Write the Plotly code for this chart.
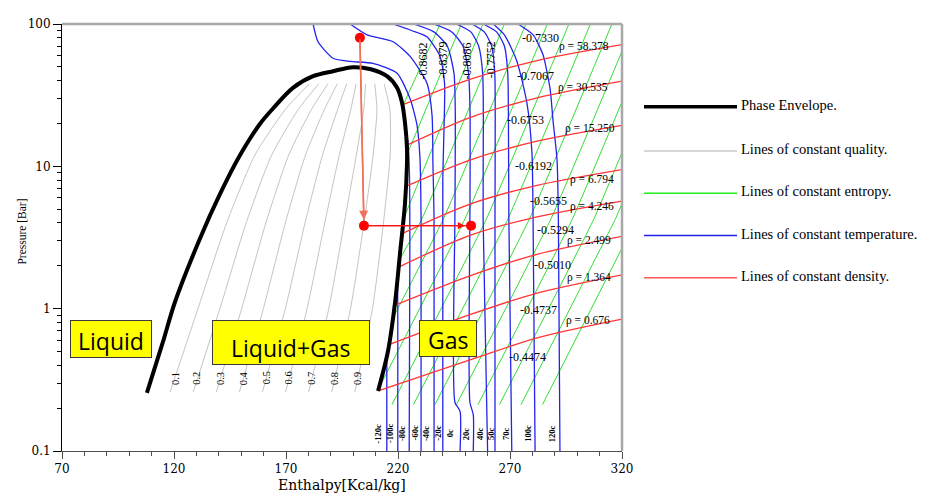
import math
import plotly.graph_objects as go

# ---------------- phase envelope (bubble + dew branches) ----------------
bubble_h = [107.9, 115.1, 120.4, 131.6, 140.5, 149.5, 158.5, 164.2, 173.1, 182.1, 191.0, 199.9]
bubble_p = [0.256, 0.586, 1.11, 3.11, 6.37, 12.0, 20.0, 25.5, 35.6, 43.0, 46.6, 49.7]
dew_h = [207.9, 215.1, 219.6, 221.8, 223.1, 224.0, 224.0, 223.1, 220.9, 218.7, 215.5, 211.1]
dew_p = [48.1, 43.0, 35.6, 28.0, 20.4, 13.5, 10.3, 5.43, 2.45, 1.11, 0.50, 0.264]

# ---------------- lines of constant quality ----------------
quality_labels = ["0.1", "0.2", "0.3", "0.4", "0.5", "0.6", "0.7", "0.8", "0.9"]
quality_p = [0.26, 1.0, 4.0, 12.0, 25.0, 38.0]
quality_h = [
    [118.3, 130.7, 143.5, 156.1, 169.6, 180.4],
    [128.6, 140.5, 152.2, 163.6, 175.4, 184.6],
    [138.9, 150.2, 161.0, 171.2, 181.3, 188.7],
    [149.2, 159.9, 169.7, 178.7, 187.1, 192.9],
    [159.5, 169.7, 178.5, 186.3, 193.0, 197.1],
    [169.8, 179.4, 187.3, 193.8, 198.9, 201.3],
    [180.1, 189.1, 196.0, 201.4, 204.7, 205.5],
    [190.4, 198.8, 204.8, 208.9, 210.6, 209.6],
    [200.7, 208.6, 213.5, 216.5, 216.4, 213.8],
]
quality_label_h = [120.4, 130.1, 140.5, 150.9, 161.1, 171.0, 181.0, 191.4, 201.6]
quality_label_p = 0.325

# ---------------- lines of constant temperature ----------------
temp_labels = ["-120c", "-100c", "-80c", "-60c", "-40c", "-20c", "0c",
               "20c", "40c", "50c", "70c", "100c", "120c"]
temp_h = [
    [215.0, 215.0],
    [219.9, 219.9, 219.8],
    [225.0, 225.3, 225.1, 224.4, 223.2],
    [230.3, 230.3, 229.8, 228.5, 225.4, 219.6, 208.8, 198.6, 191.0, 184.3, 182.1],
    [236.1, 236.1, 235.6, 235.2, 232.9, 225.4, 217.8, 206.2, 198.6],
    [240.0, 240.0, 240.6, 240.8, 238.8, 232.9, 226.0, 217.8],
    [247.7, 247.7, 245.4, 245.4, 245.6, 245.0, 242.0, 236.0, 227.0],
    [253.6, 253.6, 252.1, 252.1, 252.2, 251.5, 249.0, 244.0, 236.0],
    [260.0, 258.0, 258.1, 257.8, 256.0, 252.5, 246.0],
    [263.3, 263.3, 263.4, 263.2, 261.8, 258.5, 253.0],
    [270.8, 269.5, 269.3, 269.0, 267.5, 264.0, 258.0],
    [281.2, 280.3, 279.8, 277.6, 273.1, 267.5, 262.5],
    [292.3, 291.6, 291.0, 289.2, 287.9, 284.7, 280.3, 273.6],
]
temp_p = [
    [0.1, 0.46],
    [0.1, 1.0, 1.7],
    [0.1, 3.0, 9.0, 15.0, 20.0],
    [0.1, 4.3, 11.5, 19.4, 29.8, 45.1, 52.9, 54.6, 57.5, 75.0, 100.0],
    [0.1, 4.3, 10.3, 22.8, 38.5, 59.2, 75.1, 83.9, 100.0],
    [0.1, 8.0, 20.0, 38.0, 59.2, 81.3, 90.0, 100.0],
    [0.1, 0.19, 0.22, 4.3, 22.0, 45.0, 70.0, 88.0, 100.0],
    [0.1, 0.18, 0.22, 4.3, 22.0, 45.0, 70.0, 88.0, 100.0],
    [0.1, 4.3, 22.0, 45.0, 70.0, 88.0, 100.0],
    [0.1, 4.3, 22.0, 45.0, 70.0, 88.0, 100.0],
    [0.1, 4.3, 22.0, 45.0, 70.0, 88.0, 100.0],
    [0.1, 4.28, 12.4, 27.6, 54.6, 83.9, 100.0],
    [0.1, 4.28, 11.1, 21.0, 35.0, 61.1, 83.9, 100.0],
]
temp_label_h = [211.2, 216.7, 222.1, 227.6, 232.8, 238.0, 243.2,
                250.7, 256.9, 261.8, 268.5, 278.2, 289.1]
temp_label_p = 0.133

# ---------------- lines of constant entropy ----------------
ent_h = [
    [222.2, 238.8],
    [224.0, 248.3],
    [222.5, 257.9],
    [219.6, 230.7, 267.5],
    [217.6, 240.3, 277.1],
    [211.3, 249.9, 286.7],
    [217.3, 259.5, 296.3],
    [226.9, 269.1, 305.9],
    [236.5, 278.7, 315.5],
    [246.1, 288.3, 320.0],
    [255.7, 297.9, 320.0],
    [265.3, 307.5, 320.0],
    [274.9, 317.1, 320.0],
    [284.5, 320.0],
]
ent_p = [
    [26.7, 100.0],
    [12.05, 100.0],
    [4.28, 100.0],
    [2.06, 4.28, 100.0],
    [0.849, 4.28, 100.0],
    [0.273, 4.28, 100.0],
    [0.2117, 4.28, 100.0],
    [0.2117, 4.28, 100.0],
    [0.2117, 4.28, 100.0],
    [0.2117, 4.28, 64.4],
    [0.2117, 4.28, 28.4],
    [0.2117, 4.28, 12.48],
    [0.2117, 4.28, 5.49],
    [0.2117, 2.66],
]
ent_vlabels = ["-0.8682", "-0.8379", "-0.8086", "-0.7752"]
ent_vlabel_h = [231.2, 240.1, 250.8, 261.5]
ent_vlabel_p = [54.6, 55.5, 55.5, 56.4]
ent_labels = ["-0.7330", "-0.7067", "-0.6753", "-0.6192", "-0.5655",
              "-0.5294", "-0.5010", "-0.4737", "-0.4474"]
ent_label_h = [283.4, 281.6, 276.7, 280.3, 287.0, 290.1, 288.8, 282.5, 278.0]
ent_label_p = [80.0, 43.0, 21.0, 10.1, 5.70, 3.59, 2.03, 0.975, 0.461]

# ---------------- lines of constant density ----------------
den_labels = ["ρ = 58.378", "ρ = 30.535", "ρ = 15.250", "ρ = 6.794",
              "ρ = 4.246", "ρ = 2.499", "ρ = 1.364", "ρ = 0.676"]
den_h = [
    [221.9, 252.1, 282.1, 320.0],
    [224.0, 252.1, 282.1, 320.0],
    [223.5, 252.1, 282.1, 320.0],
    [221.8, 252.1, 282.1, 320.0],
    [220.3, 252.1, 282.1, 320.0],
    [218.5, 252.1, 282.1, 320.0],
    [216.0, 252.1, 282.1, 320.0],
    [211.1, 252.1, 282.1, 320.0],
]
den_p = [
    [27.0, 40.8, 55.4, 71.6],
    [14.1, 22.0, 30.3, 39.7],
    [7.24, 11.07, 15.03, 19.4],
    [3.37, 5.43, 7.36, 9.49],
    [1.96, 3.27, 4.42, 5.70],
    [1.056, 1.70, 2.41, 3.22],
    [0.559, 0.907, 1.288, 1.73],
    [0.264, 0.436, 0.624, 0.845],
]
den_label_h = [303.0, 302.6, 305.7, 306.6, 306.6, 305.3, 305.3, 304.8]
den_label_p = [69.4, 35.6, 18.5, 8.09, 5.18, 3.02, 1.65, 0.831]

# ---------------- process path ----------------
proc_h = [203.0, 204.8, 252.6]
proc_p = [80.0, 3.83, 3.83]

# ---------------- legend ----------------
legend_names = ["Phase Envelope.", "Lines of constant quality.", "Lines of constant entropy.",
                "Lines of constant temperature.", "Lines of constant density."]
legend_colors = ["#000000", "#C8C8C8", "#22EE22", "#2222EE", "#FF5555"]
legend_widths = [3.5, 1.5, 1.5, 1.5, 1.5]

C_Q, C_S, C_T, C_D = "#C4C4C4", "#33DD33", "#2323EE", "#FF3535"

# page offset of the figure inside the browser page (default body margin)
OFF = 8
PL, PT, PW, PH = 62, 17, 560, 434   # plot area in window pixels


def pxx(px):
    return (px - PL) / float(PW)


def pxy(py):
    return (PT + PH - py) / float(PH)


fig = go.Figure()


def add_line(h, p, color, width, smooth=0.6):
    fig.add_trace(go.Scatter(x=h, y=p, mode="lines",
                             line=dict(color=color, width=width, shape="spline", smoothing=smooth),
                             hoverinfo="skip", showlegend=False))


for hq in quality_h:
    add_line(hq, quality_p, C_Q, 1.0)
for hs, ps in zip(ent_h, ent_p):
    add_line(hs, ps, C_S, 1.0, 0.3)
for ht, pt in zip(temp_h, temp_p):
    add_line(ht, pt, C_T, 1.3, 0.6)
for hd, pd in zip(den_h, den_p):
    add_line(hd, pd, C_D, 1.3, 0.8)

env_h = bubble_h + dew_h
env_p = bubble_p + dew_p
add_line(env_h, env_p, "#000000", 4.0, 0.9)

# process path
fig.add_trace(go.Scatter(x=proc_h[:2], y=proc_p[:2], mode="lines",
                         line=dict(color="#F07058", width=1.5), hoverinfo="skip", showlegend=False))
fig.add_trace(go.Scatter(x=proc_h[1:], y=proc_p[1:], mode="lines",
                         line=dict(color="#FF1010", width=1.2), hoverinfo="skip", showlegend=False))
fig.add_trace(go.Scatter(x=proc_h, y=proc_p, mode="markers",
                         marker=dict(color="#FF0000", size=10), hoverinfo="skip", showlegend=False))

ann = []
ann.append(dict(x=proc_h[1], y=math.log10(proc_p[1]), ax=proc_h[0], ay=math.log10(proc_p[0]),
                xref="x", yref="y", axref="x", ayref="y", text="", showarrow=True,
                arrowhead=2, arrowsize=1.2, arrowwidth=1.5, arrowcolor="#F07058", standoff=6))
ann.append(dict(x=proc_h[2], y=math.log10(proc_p[2]), ax=proc_h[1], ay=math.log10(proc_p[1]),
                xref="x", yref="y", axref="x", ayref="y", text="", showarrow=True,
                arrowhead=2, arrowsize=1.2, arrowwidth=1.2, arrowcolor="#FF1010", standoff=6))

SERIF = "Liberation Serif"


def lab(text, h, p, size, angle=0, color="#000000", family=SERIF):
    ann.append(dict(x=h, y=math.log10(p), xref="x", yref="y", text=text, showarrow=False,
                    textangle=angle, xanchor="center", yanchor="middle",
                    font=dict(family=family, size=size, color=color)))


for t, h in zip(quality_labels, quality_label_h):
    lab(t, h, quality_label_p, 10.5, -90)
for t, h in zip(temp_labels, temp_label_h):
    lab("<b>" + t + "</b>", h, temp_label_p, 8.5, -90)
for t, h, p in zip(ent_vlabels, ent_vlabel_h, ent_vlabel_p):
    lab(t, h, p, 12, -90)
for t, h, p in zip(ent_labels, ent_label_h, ent_label_p):
    lab(t, h, p, 12)
for t, h, p in zip(den_labels, den_label_h, den_label_p):
    lab(t, h, p, 11.5)

# region boxes
boxes = [("Liquid", 110.5, 337.5, 80, 36.4),
         ("Liquid+Gas", 290.5, 340.8, 155.6, 43),
         ("Gas", 447.5, 336.7, 56.4, 34.7)]
for t, cx, cy, w, hgt in boxes:
    ann.append(dict(x=pxx(cx), y=pxy(cy), xref="paper", yref="paper", text=t, showarrow=False,
                    xanchor="center", yanchor="middle", width=w, height=hgt,
                    bgcolor="#FFFF00", bordercolor="#3A3A3A", borderwidth=1, borderpad=0,
                    valign="bottom", align="center",
                    font=dict(family="Open Sans", size=23, color="#000000")))

# axis titles
ann.append(dict(x=pxx(342), y=pxy(486), xref="paper", yref="paper", text="Enthalpy[Kcal/kg]",
                showarrow=False, xanchor="center", yanchor="middle",
                font=dict(family="DejaVu Serif", size=14, color="#000000")))
ann.append(dict(x=pxx(22), y=pxy(228), xref="paper", yref="paper", text="Pressure [Bar]",
                showarrow=False, xanchor="center", yanchor="middle", textangle=-90,
                font=dict(family=SERIF, size=11.5, color="#000000")))

# legend
shapes = []
leg_y = [101, 146, 189, 232, 275]
for name, col, wd, py in zip(legend_names, legend_colors, legend_widths, leg_y):
    shapes.append(dict(type="line", xref="paper", yref="paper", x0=pxx(644), x1=pxx(737),
                       y0=pxy(py), y1=pxy(py), line=dict(color=col, width=wd)))
    ann.append(dict(x=pxx(739), y=pxy(py - 2), xref="paper", yref="paper", text=name,
                    showarrow=False, xanchor="left", yanchor="middle",
                    font=dict(family=SERIF, size=14.5, color="#000000")))

# gray frame top / right
shapes.append(dict(type="line", xref="paper", yref="paper", x0=0, x1=1, y0=1, y1=1,
                   line=dict(color="#A8A8A8", width=2.5)))
shapes.append(dict(type="line", xref="paper", yref="paper", x0=1, x1=1, y0=0, y1=1,
                   line=dict(color="#A8A8A8", width=2.5)))

minor_y = [m * d for d in (0.1, 1, 10) for m in range(2, 10)]

FW, FH = 931 - OFF, 499 - OFF
fig.update_layout(
    width=FW, height=FH,
    margin=dict(l=PL - OFF, r=FW - (PL - OFF) - PW, t=PT - OFF, b=FH - (PT - OFF) - PH),
    paper_bgcolor="#FFFFFF", plot_bgcolor="#FFFFFF",
    showlegend=False, hovermode=False,
    annotations=ann, shapes=shapes,
    xaxis=dict(range=[70, 320], tick0=70, dtick=50, showgrid=False, zeroline=False,
               showline=True, linecolor="#505050", linewidth=1,
               ticks="outside", ticklen=7, tickcolor="#505050",
               minor=dict(dtick=10, tick0=70, ticks="outside", ticklen=4, tickcolor="#505050"),
               tickfont=dict(family="DejaVu Serif", size=12, color="#000000")),
    yaxis=dict(type="log", range=[-1, 2], showgrid=False, zeroline=False,
               showline=True, linecolor="#000000", linewidth=1,
               tickmode="array", tickvals=[0.1, 1, 10, 100], ticktext=["0.1", "1", "10", "100"],
               ticks="outside", ticklen=8, tickcolor="#000000",
               minor=dict(tickmode="array", tickvals=minor_y, ticks="outside", ticklen=4,
                          tickcolor="#000000"),
               tickfont=dict(family="DejaVu Serif", size=12, color="#000000")),
)

fig.write_html("out.html")
